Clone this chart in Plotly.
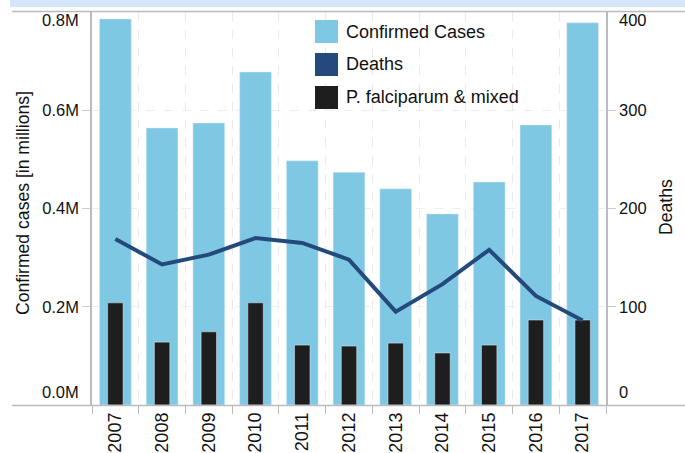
import plotly.graph_objects as go

years = ["2007", "2008", "2009", "2010", "2011", "2012", "2013", "2014", "2015", "2016", "2017"]
confirmed_cases = [786000, 564000, 574000, 678000, 497000, 474000, 440000, 389000, 454000, 570000, 778000]
falciparum_mixed = [208000, 128000, 149000, 208000, 122000, 120000, 126000, 106000, 122000, 173000, 173000]
deaths = [169, 143, 153, 170, 165, 148, 95, 123, 158, 111, 86]

left_ticks = [200000, 400000, 600000]
left_ticktext = ["0.2M", "0.4M", "0.6M"]
right_ticks = [100, 200, 300]
right_ticktext = ["100", "200", "300"]

C_LIGHT = "#7ec8e3"
C_DARK = "#244a7c"
C_BLACK = "#1e1e1e"
FONT = "Liberation Sans, Arial, sans-serif"
TICK = 16.5
TITLE = 17.6

fig = go.Figure()
fig.add_trace(go.Bar(x=years, y=confirmed_cases, name="Confirmed Cases", marker_color=C_LIGHT,
                     width=0.68, showlegend=False))
fig.add_trace(go.Bar(x=years, y=falciparum_mixed, name="P. falciparum & mixed", marker_color=C_BLACK,
                     width=0.33, showlegend=False))
fig.add_trace(go.Scatter(x=years, y=deaths, name="Deaths", mode="lines", yaxis="y2",
                         line=dict(color=C_DARK, width=4), showlegend=False))

L, R, T, B = 92, 79, 12, 48
W, H = 685, 453
pw, ph = W - L - R, H - T - B

def px_x(x):
    return (x - L) / pw

def px_y(y):
    return (H - B - y) / ph

fig.update_layout(
    width=W, height=H,
    margin=dict(l=L, r=R, t=T, b=B, pad=0, autoexpand=False),
    paper_bgcolor="white", plot_bgcolor="white",
    barmode="overlay",
    font=dict(family=FONT, size=TICK, color="#111"),
    xaxis=dict(type="category", tickson="boundaries", ticks="outside", ticklen=8,
               tickcolor="#bbb", tickangle=-90, showgrid=True, gridcolor="#eaeaea",
               griddash="dash", showline=False, tickfont=dict(size=18),
               ticklabelstandoff=3, automargin=False),
    yaxis=dict(range=[0, 800000], tickvals=left_ticks, ticktext=left_ticktext,
               ticks="outside", ticklen=8, tickcolor="#ccc", showgrid=True,
               gridcolor="#eeeeee", griddash="dash", showline=True, linecolor="#bbb",
               linewidth=1.5, zeroline=False, tickfont=dict(size=TICK), automargin=False),
    yaxis2=dict(range=[0, 400], overlaying="y", side="right", tickvals=right_ticks,
                ticktext=right_ticktext, ticks="outside", ticklen=8, tickcolor="#ccc",
                showgrid=False, showline=True, linecolor="#bbb", linewidth=1.5,
                zeroline=False, tickfont=dict(size=TICK), automargin=False),
)

shapes = [
    dict(type="rect", xref="paper", yref="paper", x0=px_x(10), x1=px_x(685), y0=px_y(7), y1=px_y(0),
         fillcolor="#d6e6fa", line=dict(width=0), layer="below"),
    dict(type="line", xref="paper", yref="paper", x0=px_x(12), x1=px_x(685), y0=px_y(11.5), y1=px_y(11.5),
         line=dict(color="#bbb", width=1.5)),
    dict(type="line", xref="paper", yref="paper", x0=px_x(12), x1=px_x(685), y0=px_y(405.5), y1=px_y(405.5),
         line=dict(color="#bbb", width=1.5)),
]

annotations = [
    dict(text="0.8M", xref="paper", yref="paper", x=px_x(81), y=px_y(20), xanchor="right", yanchor="middle",
         showarrow=False, font=dict(size=TICK)),
    dict(text="0.0M", xref="paper", yref="paper", x=px_x(81), y=px_y(392), xanchor="right", yanchor="middle",
         showarrow=False, font=dict(size=TICK)),
    dict(text="400", xref="paper", yref="paper", x=px_x(617), y=px_y(20), xanchor="left", yanchor="middle",
         showarrow=False, font=dict(size=TICK)),
    dict(text="0", xref="paper", yref="paper", x=px_x(617), y=px_y(392), xanchor="left", yanchor="middle",
         showarrow=False, font=dict(size=TICK)),
    dict(text="Confirmed cases [in millions]", xref="paper", yref="paper", x=px_x(23), y=px_y(203),
         xanchor="center", yanchor="middle", textangle=-90, showarrow=False, font=dict(size=TITLE)),
    dict(text="Deaths", xref="paper", yref="paper", x=px_x(666), y=px_y(207),
         xanchor="center", yanchor="middle", textangle=-90, showarrow=False, font=dict(size=TITLE)),
]

legend_items = [("Confirmed Cases", C_LIGHT), ("Deaths", C_DARK), ("P. falciparum & mixed", C_BLACK)]
for i, (label, color) in enumerate(legend_items):
    yc = 31.5 + i * 33
    shapes.append(dict(type="rect", xref="paper", yref="paper", x0=px_x(315), x1=px_x(338),
                       y0=px_y(yc + 11.5), y1=px_y(yc - 11.5), fillcolor=color, line=dict(width=0)))
    annotations.append(dict(text=label, xref="paper", yref="paper", x=px_x(344), y=px_y(yc),
                            xanchor="left", yanchor="middle", showarrow=False, font=dict(size=18)))

fig.update_layout(shapes=shapes, annotations=annotations)
fig.write_html("out.html", post_script="document.body.style.margin='0';",
               config={"displayModeBar": False})
